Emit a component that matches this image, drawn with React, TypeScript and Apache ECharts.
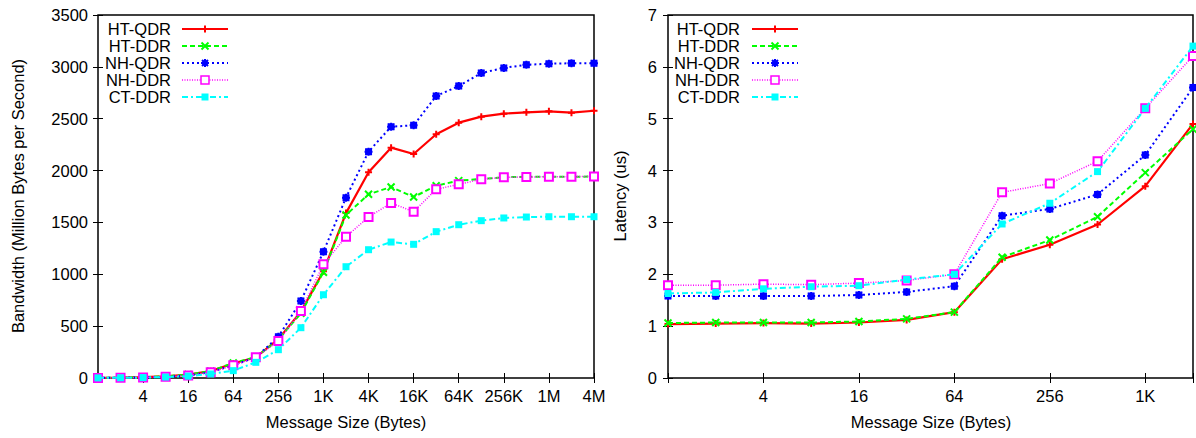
import React, { useEffect, useRef } from "react";
import * as echarts from "echarts";

const seriesNames = ["HT-QDR", "HT-DDR", "NH-QDR", "NH-DDR", "CT-DDR"];

// Bandwidth plot (left)
const bwSizes = [1, 2, 4, 8, 16, 32, 64, 128, 256, 512, 1024, 2048, 4096, 8192, 16384, 32768, 65536, 131072, 262144, 524288, 1048576, 2097152, 4194304];
const bwHTQDR = [2, 4, 8, 16, 33, 66, 140, 200, 375, 640, 1030, 1590, 1983, 2221, 2160, 2350, 2462, 2520, 2549, 2562, 2571, 2558, 2577];
const bwHTDDR = [2, 4, 8, 16, 33, 66, 145, 200, 370, 625, 1020, 1572, 1771, 1842, 1745, 1854, 1903, 1919, 1935, 1941, 1941, 1941, 1942];
const bwNHQDR = [1, 3, 6, 12, 25, 58, 122, 200, 398, 742, 1218, 1739, 2182, 2423, 2436, 2719, 2815, 2940, 2990, 3020, 3030, 3035, 3035];
const bwNHDDR = [1, 3, 6, 12, 25, 55, 122, 199, 357, 646, 1096, 1362, 1552, 1687, 1604, 1819, 1867, 1916, 1935, 1938, 1941, 1941, 1944];
const bwCTDDR = [1, 2, 4, 9, 18, 39, 71, 151, 273, 485, 803, 1073, 1237, 1311, 1289, 1411, 1478, 1517, 1543, 1552, 1555, 1555, 1555];
const bwXTickLabels = ["4", "16", "64", "256", "1K", "4K", "16K", "64K", "256K", "1M", "4M"];

// Latency plot (right)
const latSizes = [1, 2, 4, 8, 16, 32, 64, 128, 256, 512, 1024, 2048];
const latHTQDR = [1.04, 1.05, 1.06, 1.05, 1.07, 1.12, 1.27, 2.29, 2.57, 2.96, 3.7, 4.9];
const latHTDDR = [1.06, 1.07, 1.07, 1.07, 1.09, 1.14, 1.27, 2.33, 2.66, 3.11, 3.96, 4.8];
const latNHQDR = [1.58, 1.58, 1.58, 1.58, 1.6, 1.66, 1.77, 3.13, 3.26, 3.54, 4.3, 5.6];
const latNHDDR = [1.79, 1.79, 1.81, 1.8, 1.83, 1.88, 2.0, 3.58, 3.75, 4.18, 5.2, 6.21];
const latCTDDR = [1.63, 1.65, 1.72, 1.76, 1.78, 1.9, 2.0, 2.97, 3.37, 3.98, 5.2, 6.4];
const latXTickLabels = ["4", "16", "64", "256", "1K"];

const FONT = "Liberation Sans, Arial, Helvetica, sans-serif";
const FS = 16.5;

const styles = [
  { color: "#ff0000", dash: null as number[] | null, width: 2.2, symbol: "plus", size: 7 },
  { color: "#00ff00", dash: [5, 3], width: 2, symbol: "cross", size: 7 },
  { color: "#0000ff", dash: [2, 3], width: 2, symbol: "star", size: 8 },
  { color: "#ff00ff", dash: [1, 1.5], width: 1.5, symbol: "openRect", size: 8 },
  { color: "#00ffff", dash: [6, 3, 2, 3], width: 2, symbol: "rect", size: 7 },
];

const symbolMap: Record<string, string> = {
  plus: "path://M0,4H8M4,0V8",
  cross: "path://M0,0L8,8M8,0L0,8",
  star: "path://M1.5,1.5H6.5V6.5H1.5Z M0,4H8M4,0V8M1,1L7,7M7,1L1,7",
  openRect: "emptyRect",
  rect: "rect",
};

function legendGraphics(textRight: number, x0: number, x1: number, ys: number[]) {
  const els: any[] = [];
  seriesNames.forEach((name, i) => {
    const s = styles[i];
    const y = ys[i];
    const cx = (x0 + x1) / 2;
    els.push({
      type: "text",
      x: textRight,
      y,
      style: {
        text: name,
        textAlign: "right",
        textVerticalAlign: "middle",
        verticalAlign: "middle",
        font: `${FS}px ${FONT}`,
        fill: "#000",
      },
    });
    els.push({
      type: "line",
      shape: { x1: x0, y1: y, x2: x1, y2: y },
      style: { stroke: s.color, lineWidth: s.width, lineDash: s.dash || undefined },
    });
    const h = s.size / 2;
    if (s.symbol === "star") {
      els.push({ type: "rect", shape: { x: cx - 2.5, y: y - 2.5, width: 5, height: 5 }, style: { fill: s.color } });
    }
    if (s.symbol === "plus" || s.symbol === "star") {
      els.push({ type: "line", shape: { x1: cx - h, y1: y, x2: cx + h, y2: y }, style: { stroke: s.color, lineWidth: 2 } });
      els.push({ type: "line", shape: { x1: cx, y1: y - h, x2: cx, y2: y + h }, style: { stroke: s.color, lineWidth: 2 } });
    }
    if (s.symbol === "cross" || s.symbol === "star") {
      const k = s.symbol === "star" ? h * 0.75 : h;
      els.push({ type: "line", shape: { x1: cx - k, y1: y - k, x2: cx + k, y2: y + k }, style: { stroke: s.color, lineWidth: 2 } });
      els.push({ type: "line", shape: { x1: cx + k, y1: y - k, x2: cx - k, y2: y + k }, style: { stroke: s.color, lineWidth: 2 } });
    }
    if (s.symbol === "rect") {
      els.push({ type: "rect", shape: { x: cx - h, y: y - h, width: s.size, height: s.size }, style: { fill: s.color } });
    }
    if (s.symbol === "openRect") {
      els.push({ type: "rect", shape: { x: cx - h, y: y - h, width: s.size, height: s.size }, style: { fill: "#fff", stroke: s.color, lineWidth: 1.5 } });
    }
  });
  return els;
}

function makeSeries(sizes: number[], arrays: number[][], axisIndex: number) {
  return arrays.map((arr, i) => {
    const s = styles[i];
    return {
      name: seriesNames[i] + (axisIndex === 0 ? "" : " "),
      type: "line",
      xAxisIndex: axisIndex,
      yAxisIndex: axisIndex,
      data: sizes.map((sz, j) => [Math.log2(sz), arr[j]]),
      symbol: symbolMap[s.symbol],
      symbolSize: s.size,
      showAllSymbol: true,
      clip: false,
      lineStyle: { color: s.color, width: s.width, type: s.dash ? s.dash : "solid" },
      itemStyle: {
        color: s.color,
        borderColor: s.color,
        borderWidth: s.symbol === "rect" ? 0 : s.symbol === "openRect" ? 1.5 : 2,
      },
      emphasis: { disabled: true },
      z: 2 + i,
    };
  });
}

const tickStyle = { show: true, inside: true, length: 5, lineStyle: { color: "#000", width: 1 } };
const labelStyle = { color: "#000", fontSize: FS, fontFamily: FONT };

export default function App() {
  const ref = useRef<HTMLDivElement>(null);
  useEffect(() => {
    if (!ref.current) return;
    const chart = echarts.init(ref.current, undefined, { renderer: "svg" });
    const option: any = {
      animation: false,
      backgroundColor: "#fff",
      grid: [
        { left: 98, right: 602, top: 15, bottom: 60, show: true, borderColor: "#000", borderWidth: 1.5, backgroundColor: "transparent" },
        { left: 668, right: 2, top: 15, bottom: 60, show: true, borderColor: "#000", borderWidth: 1.5, backgroundColor: "transparent" },
      ],
      xAxis: [
        {
          type: "value", gridIndex: 0, min: 0, max: 22, interval: 2,
          axisLine: { show: false }, splitLine: { show: false }, axisTick: tickStyle,
          axisLabel: { ...labelStyle, margin: 9, formatter: (v: number) => (v === 0 ? "" : bwXTickLabels[v / 2 - 1] || "") },
        },
        {
          type: "value", gridIndex: 1, min: 0, max: 11, interval: 2,
          axisLine: { show: false }, splitLine: { show: false }, axisTick: tickStyle,
          axisLabel: { ...labelStyle, margin: 9, formatter: (v: number) => (v === 0 ? "" : latXTickLabels[v / 2 - 1] || "") },
        },
        {
          type: "value", gridIndex: 0, position: "top", min: 0, max: 22, interval: 2,
          axisLine: { show: false }, splitLine: { show: false }, axisTick: tickStyle, axisLabel: { show: false },
        },
        {
          type: "value", gridIndex: 1, position: "top", min: 0, max: 11, interval: 2,
          axisLine: { show: false }, splitLine: { show: false }, axisTick: tickStyle, axisLabel: { show: false },
        },
      ],
      yAxis: [
        {
          type: "value", gridIndex: 0, min: 0, max: 3500, interval: 500,
          axisLine: { show: false }, splitLine: { show: false }, axisTick: tickStyle,
          axisLabel: { ...labelStyle, margin: 10, formatter: (v: number) => String(v) },
        },
        {
          type: "value", gridIndex: 1, min: 0, max: 7, interval: 1,
          axisLine: { show: false }, splitLine: { show: false }, axisTick: tickStyle,
          axisLabel: { ...labelStyle, margin: 11, formatter: (v: number) => String(v) },
        },
        {
          type: "value", gridIndex: 0, position: "right", min: 0, max: 3500, interval: 500,
          axisLine: { show: false }, splitLine: { show: false }, axisTick: tickStyle, axisLabel: { show: false },
        },
        {
          type: "value", gridIndex: 1, position: "right", min: 0, max: 7, interval: 1,
          axisLine: { show: false }, splitLine: { show: false }, axisTick: tickStyle, axisLabel: { show: false },
        },
      ],
      series: [
        ...makeSeries(bwSizes, [bwHTQDR, bwHTDDR, bwNHQDR, bwNHDDR, bwCTDDR], 0),
        ...makeSeries(latSizes, [latHTQDR, latHTDDR, latNHQDR, latNHDDR, latCTDDR], 1),
      ],
      graphic: [
        ...legendGraphics(171, 182, 228, [29, 46, 63, 80, 97]),
        ...legendGraphics(740, 752, 798, [29, 46, 63, 80, 97]),
        {
          type: "text", x: 18, y: 196, rotation: Math.PI / 2,
          style: { text: "Bandwidth (Million Bytes per Second)", textAlign: "center", textVerticalAlign: "middle", verticalAlign: "middle", font: `${FS}px ${FONT}`, fill: "#000" },
        },
        {
          type: "text", x: 620, y: 196, rotation: Math.PI / 2,
          style: { text: "Latency (us)", textAlign: "center", textVerticalAlign: "middle", verticalAlign: "middle", font: `${FS}px ${FONT}`, fill: "#000" },
        },
        {
          type: "text", x: 346, y: 422,
          style: { text: "Message Size (Bytes)", textAlign: "center", textVerticalAlign: "middle", verticalAlign: "middle", font: `${FS}px ${FONT}`, fill: "#000" },
        },
        {
          type: "text", x: 931, y: 422,
          style: { text: "Message Size (Bytes)", textAlign: "center", textVerticalAlign: "middle", verticalAlign: "middle", font: `${FS}px ${FONT}`, fill: "#000" },
        },
      ],
    };
    chart.setOption(option);
    return () => chart.dispose();
  }, []);
  return <div ref={ref} style={{ position: "fixed", left: 0, top: 0, width: 1196, height: 438 }} />;
}
